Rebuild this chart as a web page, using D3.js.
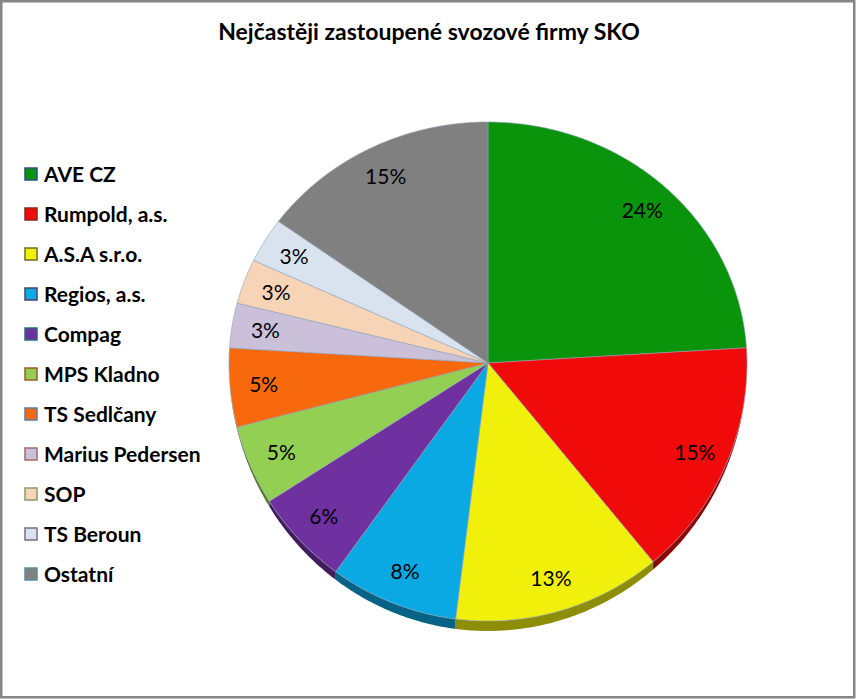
<!DOCTYPE html>
<html lang="cs">
<head>
<meta charset="UTF-8">
<title>Nejčastěji zastoupené svozové firmy SKO</title>
<style>
  body { margin: 0; background: #fff; }
  svg text { font-family: Lato, "Noto Sans", sans-serif; }
</style>
<script src="https://cdn.jsdelivr.net/npm/d3@7"></script>
</head>
<body>
<svg id="chart" width="858" height="699"></svg>
<script>
// data (percent shares)
const firms = ["AVE CZ", "Rumpold, a.s.", "A.S.A s.r.o.", "Regios, a.s.", "Compag",
               "MPS Kladno", "TS Sedlčany", "Marius Pedersen", "SOP", "TS Beroun", "Ostatní"];
const shares = [24, 15, 13, 8, 6, 5, 5, 3, 3, 3, 15];
const fills = ["#0a940c", "#f00a0a", "#f0f00a", "#0aa9e4", "#7031a0", "#92cf52",
               "#f8690e", "#cbc0d9", "#f7d4b6", "#d9e3f0", "#808080"];
const edges = ["#2a4f80", "#8a2323", "#6d6d2a", "#4c3f6e", "#2c6b7c", "#9c5c2a",
               "#5c7ca2", "#a06b6b", "#8b9b6b", "#7b6b8b", "#5b8b9b"];

const svg = d3.select("#chart");

// chart frame
svg.append("rect")
  .attr("x", 1.25).attr("y", 1.25)
  .attr("width", 853).attr("height", 696)
  .attr("fill", "#fff")
  .attr("stroke", "#868686")
  .attr("stroke-width", 2.5);

svg.append("text")
  .attr("x", 429).attr("y", 40)
  .attr("text-anchor", "middle")
  .attr("font-size", 23)
  .attr("font-weight", "bold")
  .text("Nejčastěji zastoupené svozové firmy SKO");

// slightly tilted pie: apex above the middle, front half a bit taller
const cx = 488, cy = 363, rx = 259, ryTop = 241, ryBot = 258, depth = 10;
const pt = (a, k) => {
  const c = Math.cos(a);
  return [cx + k * rx * Math.sin(a), cy - k * (c > 0 ? ryTop : ryBot) * c];
};
const sample = (a0, a1) => {
  const n = Math.max(2, Math.ceil((a1 - a0) / 0.01));
  return d3.range(n + 1).map(i => a0 + (a1 - a0) * i / n);
};

const arcs = d3.pie().sort(null).value(d => d)(shares);
const line = d3.line();

// side band on the front half
const sides = svg.append("g");
arcs.forEach((d, i) => {
  const a0 = Math.max(d.startAngle, Math.PI / 2);
  const a1 = Math.min(d.endAngle, 3 * Math.PI / 2);
  if (a1 <= a0) return;
  const angs = sample(a0, a1);
  const top = angs.map(a => pt(a, 1));
  const bottom = angs.slice().reverse().map(a => {
    const p = pt(a, 1);
    return [p[0], p[1] + depth * Math.max(0, -Math.cos(a))];
  });
  sides.append("path")
    .attr("d", line(top.concat(bottom)) + "Z")
    .attr("fill", d3.color(fills[i]).darker(1.5));
});

const slices = svg.append("g");
arcs.forEach((d, i) => {
  const pts = [[cx, cy]].concat(sample(d.startAngle, d.endAngle).map(a => pt(a, 1)));
  slices.append("path")
    .attr("d", line(pts) + "Z")
    .attr("fill", fills[i])
    .attr("stroke", "#8fa2b8")
    .attr("stroke-width", 0.6)
    .attr("stroke-linejoin", "round");
});

svg.append("g").selectAll("text")
  .data(arcs)
  .join("text")
  .attr("transform", d => {
    const p = pt((d.startAngle + d.endAngle) / 2, 0.87);
    return "translate(" + p[0] + "," + p[1] + ")";
  })
  .attr("text-anchor", "middle")
  .attr("dy", "0.36em")
  .attr("font-size", 21)
  .attr("fill", "#000")
  .text(d => d.value + "%");

// legend
const y = d3.scaleBand().domain(firms).range([154, 594]);
const legend = svg.append("g").selectAll("g")
  .data(firms)
  .join("g")
  .attr("transform", d => "translate(25," + (y(d) + y.bandwidth() / 2) + ")");
legend.append("rect")
  .attr("x", 0).attr("y", -6)
  .attr("width", 12).attr("height", 12)
  .attr("fill", (d, i) => fills[i])
  .attr("stroke", (d, i) => edges[i])
  .attr("stroke-width", 1.5);
legend.append("text")
  .attr("x", 19).attr("dy", "0.36em")
  .attr("font-size", 21)
  .attr("font-weight", "bold")
  .text(d => d);
</script>
</body>
</html>
